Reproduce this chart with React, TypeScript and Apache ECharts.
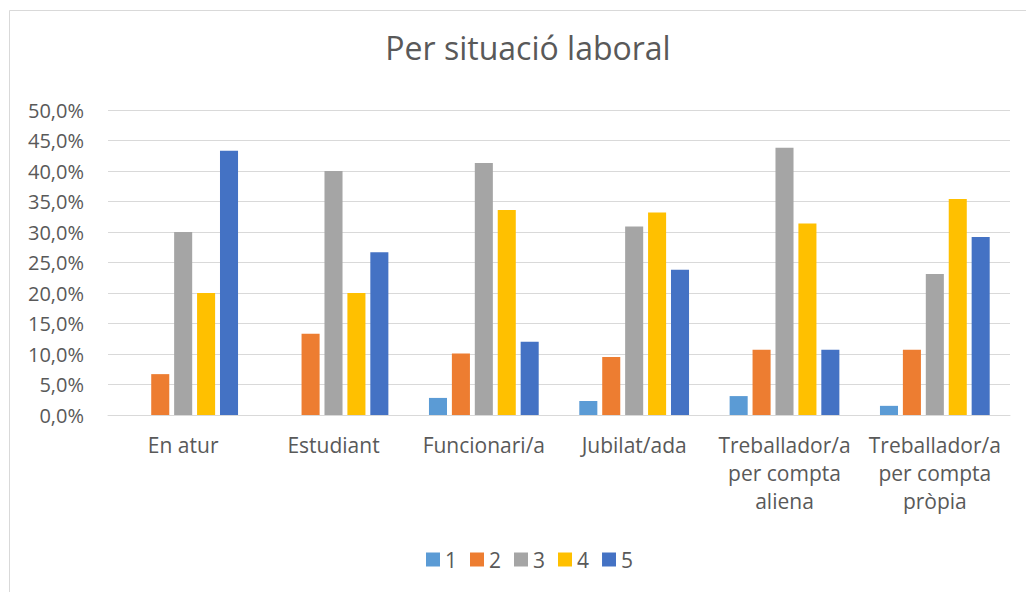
import React, { useEffect, useRef } from "react";
import * as echarts from "echarts";

const title = "Per situació laboral";
const categories = [
  "En atur",
  "Estudiant",
  "Funcionari/a",
  "Jubilat/ada",
  "Treballador/a\nper compta\naliena",
  "Treballador/a\nper compta\npròpia",
];
const seriesNames = ["1", "2", "3", "4", "5"];
const s1 = [0, 0, 2.8, 2.3, 3.1, 1.5];
const s2 = [6.7, 13.3, 10.1, 9.5, 10.7, 10.7];
const s3 = [30.0, 40.0, 41.3, 30.9, 43.8, 23.1];
const s4 = [20.0, 20.0, 33.6, 33.2, 31.4, 35.4];
const s5 = [43.3, 26.7, 12.0, 23.8, 10.7, 29.2];
const colors = ["#5B9BD5", "#ED7D31", "#A5A5A5", "#FFC000", "#4472C4"];

const FONT = "'Open Sans', 'Noto Sans', sans-serif";

export default function App() {
  const ref = useRef<HTMLDivElement>(null);
  useEffect(() => {
    if (!ref.current) return;
    const chart = echarts.init(ref.current, undefined, { renderer: "svg" });
    const data = [s1, s2, s3, s4, s5];
    chart.setOption({
      animation: false,
      color: colors,
      textStyle: { fontFamily: FONT },
      title: {
        text: title,
        left: 523,
        textAlign: "center",
        top: 26,
        textStyle: { fontFamily: FONT, fontSize: 32, fontWeight: "normal", color: "#595959" },
      },
      graphic: [
        {
          type: "rect",
          shape: { x: 9.5, y: 10.5, width: 1040, height: 620 },
          style: { fill: "none", stroke: "#d9d9d9", lineWidth: 1 },
          silent: true,
        },
      ],
      legend: {
        top: 544,
        left: 421,
        itemWidth: 14,
        itemHeight: 14,
        itemGap: 13,
        icon: "rect",
        textStyle: { fontFamily: FONT, fontSize: 21, color: "#595959" },
        data: seriesNames,
      },
      grid: { left: 108, right: 16, top: 110, bottom: 177, containLabel: false },
      xAxis: {
        type: "category",
        data: categories,
        axisLine: { lineStyle: { color: "#d9d9d9" } },
        axisTick: { show: false },
        axisLabel: {
          fontFamily: FONT,
          fontSize: 21,
          color: "#595959",
          margin: 16,
          lineHeight: 28,
          interval: 0,
        },
      },
      yAxis: {
        type: "value",
        min: 0,
        max: 50,
        interval: 5,
        axisLine: { show: false },
        axisTick: { show: false },
        splitLine: { lineStyle: { color: "#d9d9d9", width: 1 } },
        axisLabel: {
          fontFamily: FONT,
          fontSize: 20,
          color: "#595959",
          margin: 24,
          formatter: (v: number) => v.toFixed(1).replace(".", ",") + "%",
        },
      },
      series: seriesNames.map((name, i) => ({
        name,
        type: "bar",
        data: data[i],
        barGap: "27%",
        barCategoryGap: "27%",
        itemStyle: { color: colors[i] },
      })),
    });
    return () => chart.dispose();
  }, []);
  return (
    <div
      ref={ref}
      style={{ position: "absolute", left: 0, top: 0, width: 1026, height: 592, background: "#fff" }}
    />
  );
}
